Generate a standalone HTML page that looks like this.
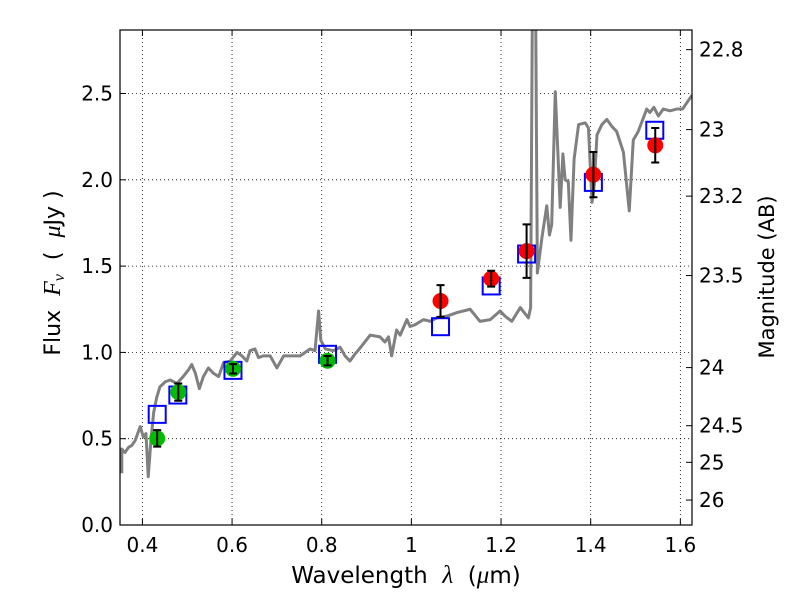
<!DOCTYPE html>
<html><head><meta charset="utf-8"><style>
body{margin:0;background:#fff;}
svg{display:block;font-family:"DejaVu Sans","Liberation Sans",sans-serif;}
text{white-space:pre;}
</style></head><body>
<svg id="c" width="800" height="600" viewBox="0 0 800 600"></svg>
<script>
const xTicks=[0.4,0.6,0.8,1.0,1.2,1.4,1.6];
const xTickLabels=["0.4","0.6","0.8","1","1.2","1.4","1.6"];
const yTicks=[0,0.5,1.0,1.5,2.0,2.5];
const yTickLabels=["0.0","0.5","1.0","1.5","2.0","2.5"];
const magTicks=[22.8,23,23.2,23.5,24,24.5,25,26];
const magLabels=["22.8","23","23.2","23.5","24","24.5","25","26"];
const specWave=[0.354,0.354,0.361,0.369,0.376,0.384,0.395,0.402,0.408,0.413,0.419,0.425,0.432,0.439,0.451,0.462,0.477,0.491,0.503,0.510,0.518,0.527,0.536,0.547,0.558,0.570,0.581,0.596,0.611,0.622,0.633,0.640,0.651,0.659,0.670,0.685,0.700,0.715,0.733,0.752,0.763,0.774,0.785,0.793,0.798,0.808,0.826,0.841,0.852,0.863,0.874,0.884,0.908,0.930,0.941,0.949,0.956,0.967,0.975,0.990,0.997,1.008,1.027,1.042,1.057,1.079,1.101,1.131,1.153,1.176,1.198,1.209,1.224,1.243,1.261,1.266,1.271,1.276,1.281,1.291,1.302,1.308,1.313,1.321,1.332,1.338,1.343,1.350,1.356,1.363,1.373,1.388,1.395,1.403,1.408,1.414,1.425,1.436,1.447,1.458,1.473,1.486,1.495,1.506,1.525,1.532,1.541,1.551,1.562,1.577,1.592,1.605,1.618,1.626];
const specFlux=[0.30,0.44,0.42,0.45,0.46,0.49,0.57,0.51,0.53,0.28,0.49,0.65,0.74,0.80,0.83,0.84,0.82,0.86,0.90,0.93,0.88,0.79,0.86,0.91,0.88,0.86,0.94,0.95,1.00,0.98,0.95,1.01,1.02,0.97,0.98,0.98,0.91,0.98,0.98,0.98,1.00,1.02,1.01,1.24,1.07,1.02,1.01,1.03,0.98,0.95,0.99,1.02,1.10,1.09,1.06,1.09,0.98,1.13,1.10,1.19,1.15,1.16,1.19,1.18,1.20,1.21,1.23,1.25,1.18,1.19,1.24,1.21,1.18,1.26,1.20,1.26,3.5,3.5,1.46,1.66,1.85,1.68,1.74,2.51,1.84,2.15,2.00,1.99,1.65,2.12,2.32,2.33,2.30,1.87,1.97,2.26,2.32,2.35,2.31,2.28,2.16,1.82,2.23,2.28,2.41,2.39,2.42,2.37,2.41,2.40,2.41,2.41,2.46,2.49];
const greenWave=[0.433,0.480,0.602,0.813];
const greenFlux=[0.502,0.77,0.905,0.952];
const greenErr=[0.048,0.05,0.027,0.027];
const redWave=[1.065,1.178,1.257,1.406,1.544];
const redFlux=[1.298,1.427,1.587,2.03,2.20];
const redErr=[0.092,0.046,0.155,0.131,0.10];
const modelWave=[0.433,0.479,0.602,0.813,1.065,1.178,1.257,1.406,1.543];
const modelFlux=[0.641,0.753,0.896,0.989,1.149,1.385,1.570,1.985,2.287];

const L=120,R=692,T=30,B=525,X0=0.35,X1=1.626,Y0=0,Y1=2.868;
const sx=v=>L+(v-X0)/(X1-X0)*(R-L);
const sy=v=>B-(v-Y0)/(Y1-Y0)*(B-T);
const NS="http://www.w3.org/2000/svg";
const svg=document.getElementById('c');
function mk(tag,attrs,parent){const e=document.createElementNS(NS,tag);for(const k in attrs)e.setAttribute(k,attrs[k]);(parent||svg).appendChild(e);return e;}

const defs=mk('defs',{});
const cp=mk('clipPath',{id:'clip'},defs);
mk('rect',{x:L,y:T,width:R-L,height:B-T},cp);

xTicks.forEach((t,i)=>{
  const g=mk('line',{x1:sx(t),x2:sx(t),y1:T,y2:B,stroke:'#000','stroke-width':0.8,'stroke-dasharray':'1,3'});
  
  
});
yTicks.forEach((t,i)=>{
  const g=mk('line',{x1:L,x2:R,y1:sy(t),y2:sy(t),stroke:'#000','stroke-width':0.8,'stroke-dasharray':'1,3'});
  
  
});

const sp=mk('polyline',{points:specWave.map((w,i)=>sx(w)+','+sy(specFlux[i])).join(' '),fill:'none',stroke:'#808080','stroke-width':3,'clip-path':'url(#clip)','stroke-linejoin':'round'});



modelWave.forEach((w,i)=>{
  const r=mk('rect',{x:sx(w)-8.5,y:sy(modelFlux[i])-8.5,width:17,height:17,fill:'none',stroke:'#0000ff','stroke-width':2});
  
  
});

function points(wave,flux,err,color,name){
  wave.forEach((w,i)=>{
    const c=mk('circle',{cx:sx(w),cy:sy(flux[i]),r:8,fill:color});
    
    
    const x=sx(w),ya=sy(flux[i]+err[i]),yb=sy(flux[i]-err[i]);
    const eb=mk('path',{d:`M${x},${ya}V${yb}M${x-4},${ya}H${x+4}M${x-4},${yb}H${x+4}`,stroke:'#000','stroke-width':2,fill:'none'});
    
    
  });
}
points(greenWave,greenFlux,greenErr,'#00bb00','optical-point');
points(redWave,redFlux,redErr,'#ff0000','nir-point');

const fr=mk('rect',{x:L,y:T,width:R-L,height:B-T,fill:'none',stroke:'#000','stroke-width':1.2});



xTicks.forEach((t,i)=>{
  mk('line',{x1:sx(t),x2:sx(t),y1:B,y2:B-6,stroke:'#000'});
  mk('line',{x1:sx(t),x2:sx(t),y1:T,y2:T+6,stroke:'#000'});
  const tx=mk('text',{x:sx(t),y:B+27,'font-size':20,'text-anchor':'middle'});
  tx.textContent=xTickLabels[i];
  
  
});
yTicks.forEach((t,i)=>{
  mk('line',{x1:L,x2:L+6,y1:sy(t),y2:sy(t),stroke:'#000'});
  const tx=mk('text',{x:L-7,y:sy(t)+7,'font-size':20,'text-anchor':'end'});
  tx.textContent=yTickLabels[i];
  
  
});
magTicks.forEach((m,i)=>{
  const y=sy(Math.pow(10,(23.9-m)/2.5));
  mk('line',{x1:R,x2:R-6,y1:y,y2:y,stroke:'#000'});
  const tx=mk('text',{x:R+7,y:y+7,'font-size':20,'text-anchor':'start'});
  tx.textContent=magLabels[i];
  
  
});

const xt=mk('text',{x:406,y:583,'font-size':23,'text-anchor':'middle'});
xt.innerHTML='Wavelength  <tspan font-style="italic" font-family="Liberation Serif, serif" font-size="25">λ</tspan>  (<tspan font-style="italic" font-family="Liberation Serif, serif" font-size="25">μ</tspan>m)';


const yt=mk('text',{x:0,y:0,'font-size':22,'text-anchor':'middle',transform:'translate(60,273) rotate(-90)'});
yt.innerHTML='Flux  <tspan font-style="italic" font-family="Liberation Serif, serif" font-size="24">F</tspan><tspan font-style="italic" font-family="Liberation Serif, serif" font-size="16" dy="4">ν</tspan><tspan dy="-4">  (  </tspan><tspan font-style="italic" font-family="Liberation Serif, serif" font-size="24">μ</tspan>Jy )';


const rt=mk('text',{x:0,y:0,'font-size':21,'text-anchor':'middle',transform:'translate(774,277) rotate(-90)'});
rt.textContent='Magnitude (AB)';


</script>
</body></html>
